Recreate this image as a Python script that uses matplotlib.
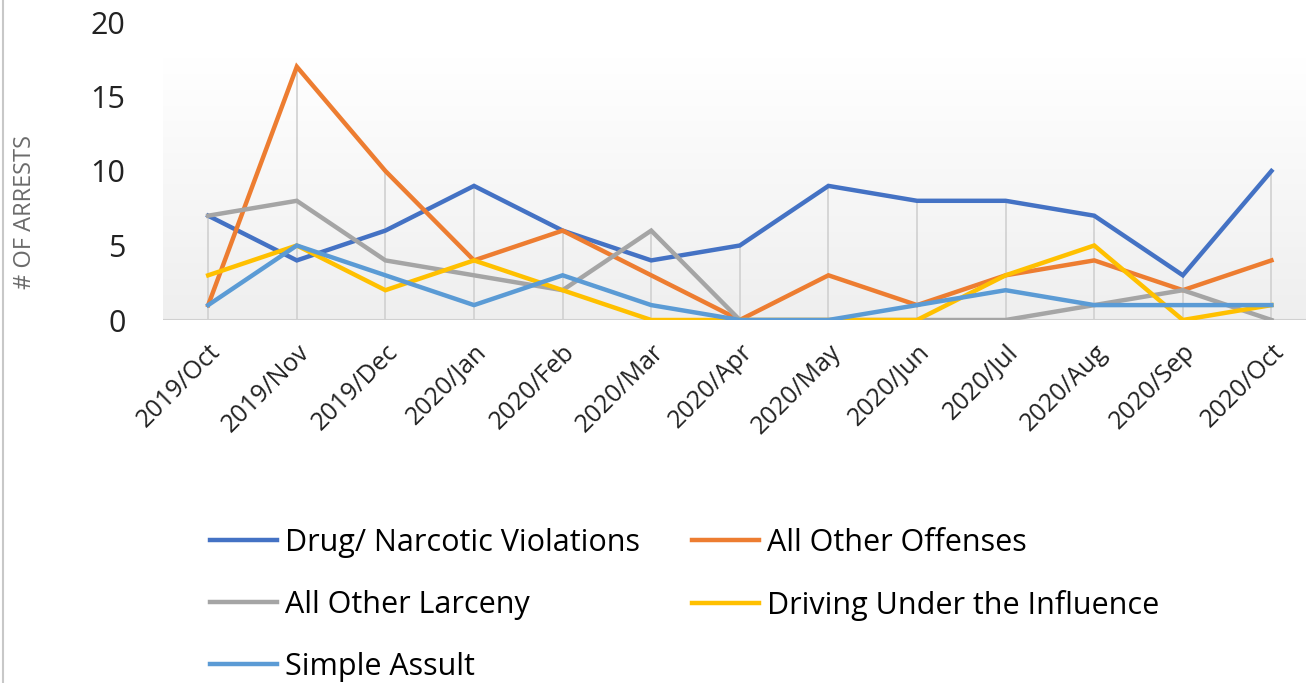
import numpy as np
import matplotlib.pyplot as plt
from matplotlib.lines import Line2D

months = ['2019/Oct', '2019/Nov', '2019/Dec', '2020/Jan', '2020/Feb', '2020/Mar', '2020/Apr',
          '2020/May', '2020/Jun', '2020/Jul', '2020/Aug', '2020/Sep', '2020/Oct']
drug = [7, 4, 6, 9, 6, 4, 5, 9, 8, 8, 7, 3, 10]
other_offenses = [1, 17, 10, 4, 6, 3, 0, 3, 1, 3, 4, 2, 4]
larceny = [7, 8, 4, 3, 2, 6, 0, 0, 0, 0, 1, 2, 0]
dui = [3, 5, 2, 4, 2, 0, 0, 0, 0, 3, 5, 0, 1]
assault = [1, 5, 3, 1, 3, 1, 0, 0, 1, 2, 1, 1, 1]

series = [
    ('Drug/ Narcotic Violations', drug, '#4472C4'),
    ('All Other Offenses', other_offenses, '#ED7D31'),
    ('All Other Larceny', larceny, '#A5A5A5'),
    ('Driving Under the Influence', dui, '#FFC000'),
    ('Simple Assult', assault, '#5B9BD5'),
]

plt.rcParams['font.family'] = ['Open Sans', 'DejaVu Sans']

fig = plt.figure(figsize=(13.06, 6.83), dpi=100)
ax = fig.add_axes([163 / 1306, 1 - 320 / 683, 1 - 163 / 1306, (320 - 22) / 683])

x = np.arange(len(months))

# plot area gradient (white on top, light grey at the bottom)
t = np.linspace(0, 1, 256)
grad = np.where(t < 0.12, 1.0, 1.0 - 0.065 * (t - 0.12) / 0.88).reshape(-1, 1)
ax.imshow(np.dstack([grad, grad, grad]), extent=[0, 1, 0, 1], transform=ax.transAxes,
          aspect='auto', zorder=0)

# drop lines from the highest point down to the axis
tops = np.max(np.array([s[1] for s in series]), axis=0)
ax.vlines(x, 0, tops, color='#d0d0d0', lw=1.2, zorder=1)
ax.axhline(0, color='#d0d0d0', lw=1.5, zorder=1)

lines = {}
for name, vals, col in series:
    lines[name], = ax.plot(x, vals, color=col, lw=3.2, zorder=3, solid_joinstyle='miter')

ax.set_xlim(-0.51, 12.39)
ax.set_ylim(0, 20)
ax.set_yticks([0, 5, 10, 15, 20])
ax.set_xticks(x)
ax.set_xticklabels(months, rotation=45, ha='right', rotation_mode='anchor')
ax.tick_params(axis='y', length=0, pad=27, labelsize=22, labelcolor='#222222')
ax.tick_params(axis='x', length=0, pad=14, labelsize=18, labelcolor='#222222')
for sp in ax.spines.values():
    sp.set_visible(False)

fig.text(25 / 1306, 1 - 212 / 683, '# OF ARRESTS', rotation=90, ha='center', va='center',
         fontsize=17, color='#6b6b6b')

order = ['Drug/ Narcotic Violations', 'All Other Larceny', 'Simple Assult',
         'All Other Offenses', 'Driving Under the Influence']
fig.legend([lines[n] for n in order], order, ncol=2, frameon=False,
           loc='upper left', bbox_to_anchor=(210 / 1306, 1 - 528 / 683),
           borderpad=0, borderaxespad=0, fontsize=22, handlelength=2.2,
           handletextpad=0.26, columnspacing=1.7, labelspacing=1.05)

fig.add_artist(Line2D([3 / 1306, 3 / 1306], [0, 1], transform=fig.transFigure,
                      color='#c8c8c8', lw=1.5))

fig.savefig('out.png', dpi=100, facecolor='white')
